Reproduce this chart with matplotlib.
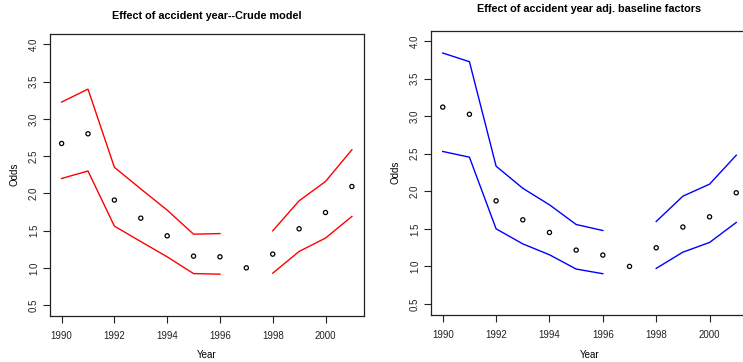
import numpy as np
import matplotlib
matplotlib.use('Agg')
import matplotlib.pyplot as plt

plt.rcParams['font.family'] = ['Liberation Sans', 'DejaVu Sans']

years = np.arange(1990, 2002)

# crude model (left panel)
crude_odds = [2.67, 2.80, 1.91, 1.667, 1.43, 1.157, 1.148, 1.0, 1.184, 1.524, 1.743, 2.092]
crude_upper = [3.226, 3.40, 2.35, 2.06, 1.775, 1.452, 1.46, np.nan, 1.497, 1.90, 2.16, 2.585]
crude_lower = [2.20, 2.30, 1.56, 1.353, 1.148, 0.923, 0.915, np.nan, 0.928, 1.22, 1.40, 1.69]

# adjusted for baseline factors (right panel)
adj_odds = [3.12, 3.025, 1.873, 1.62, 1.452, 1.217, 1.151, 1.0, 1.248, 1.524, 1.66, 1.98]
adj_upper = [3.84, 3.725, 2.334, 2.04, 1.82, 1.558, 1.478, np.nan, 1.598, 1.935, 2.095, 2.48]
adj_lower = [2.53, 2.454, 1.50, 1.30, 1.155, 0.965, 0.903, np.nan, 0.974, 1.19, 1.319, 1.585]

W, H = 743, 362
fig = plt.figure(figsize=(W / 100, H / 100), dpi=100)


def panel(rect_px, title, title_pad, odds, upper, lower, color):
    x0, y0, x1, y1 = rect_px  # pixel box: left, top, right, bottom
    ax = fig.add_axes([x0 / W, 1 - y1 / H, (x1 - x0) / W, (y1 - y0) / H])
    ax.plot(years, upper, color=color, lw=1.0)
    ax.plot(years, lower, color=color, lw=1.0)
    ax.scatter(years, odds, s=9, facecolors='none', edgecolors='black', linewidths=0.9, zorder=3)
    ax.set_xlim(1990 - 0.44, 2001 + 0.44)
    ax.set_ylim(0.5 - 0.14, 4.0 + 0.14)
    ax.set_xticks(range(1990, 2001, 2))
    ax.set_yticks(np.arange(0.5, 4.01, 0.5))
    ax.set_yticklabels([f'{v:.1f}' for v in np.arange(0.5, 4.01, 0.5)], rotation=90, va='center')
    ax.tick_params(direction='out', length=5, width=0.8, labelsize=7, colors='#222222')
    ax.tick_params(axis='x', pad=6)
    ax.tick_params(axis='y', pad=3)
    for s in ax.spines.values():
        s.set_linewidth(0.9)
        s.set_color('#222222')
    ax.set_xlabel('Year', fontsize=7, labelpad=7)
    ax.set_ylabel('Odds', fontsize=7, labelpad=7)
    ax.set_title(title, fontsize=7.8, fontweight='bold', pad=title_pad)
    return ax


panel((50, 34, 363.5, 315.5), 'Effect of accident year--Crude model', 11,
      crude_odds, crude_upper, crude_lower, '#ff0000')
panel((431, 30.5, 748, 314.5), 'Effect of accident year adj. baseline factors', 13,
      adj_odds, adj_upper, adj_lower, '#0000ff')

fig.savefig('out.png', dpi=100)
